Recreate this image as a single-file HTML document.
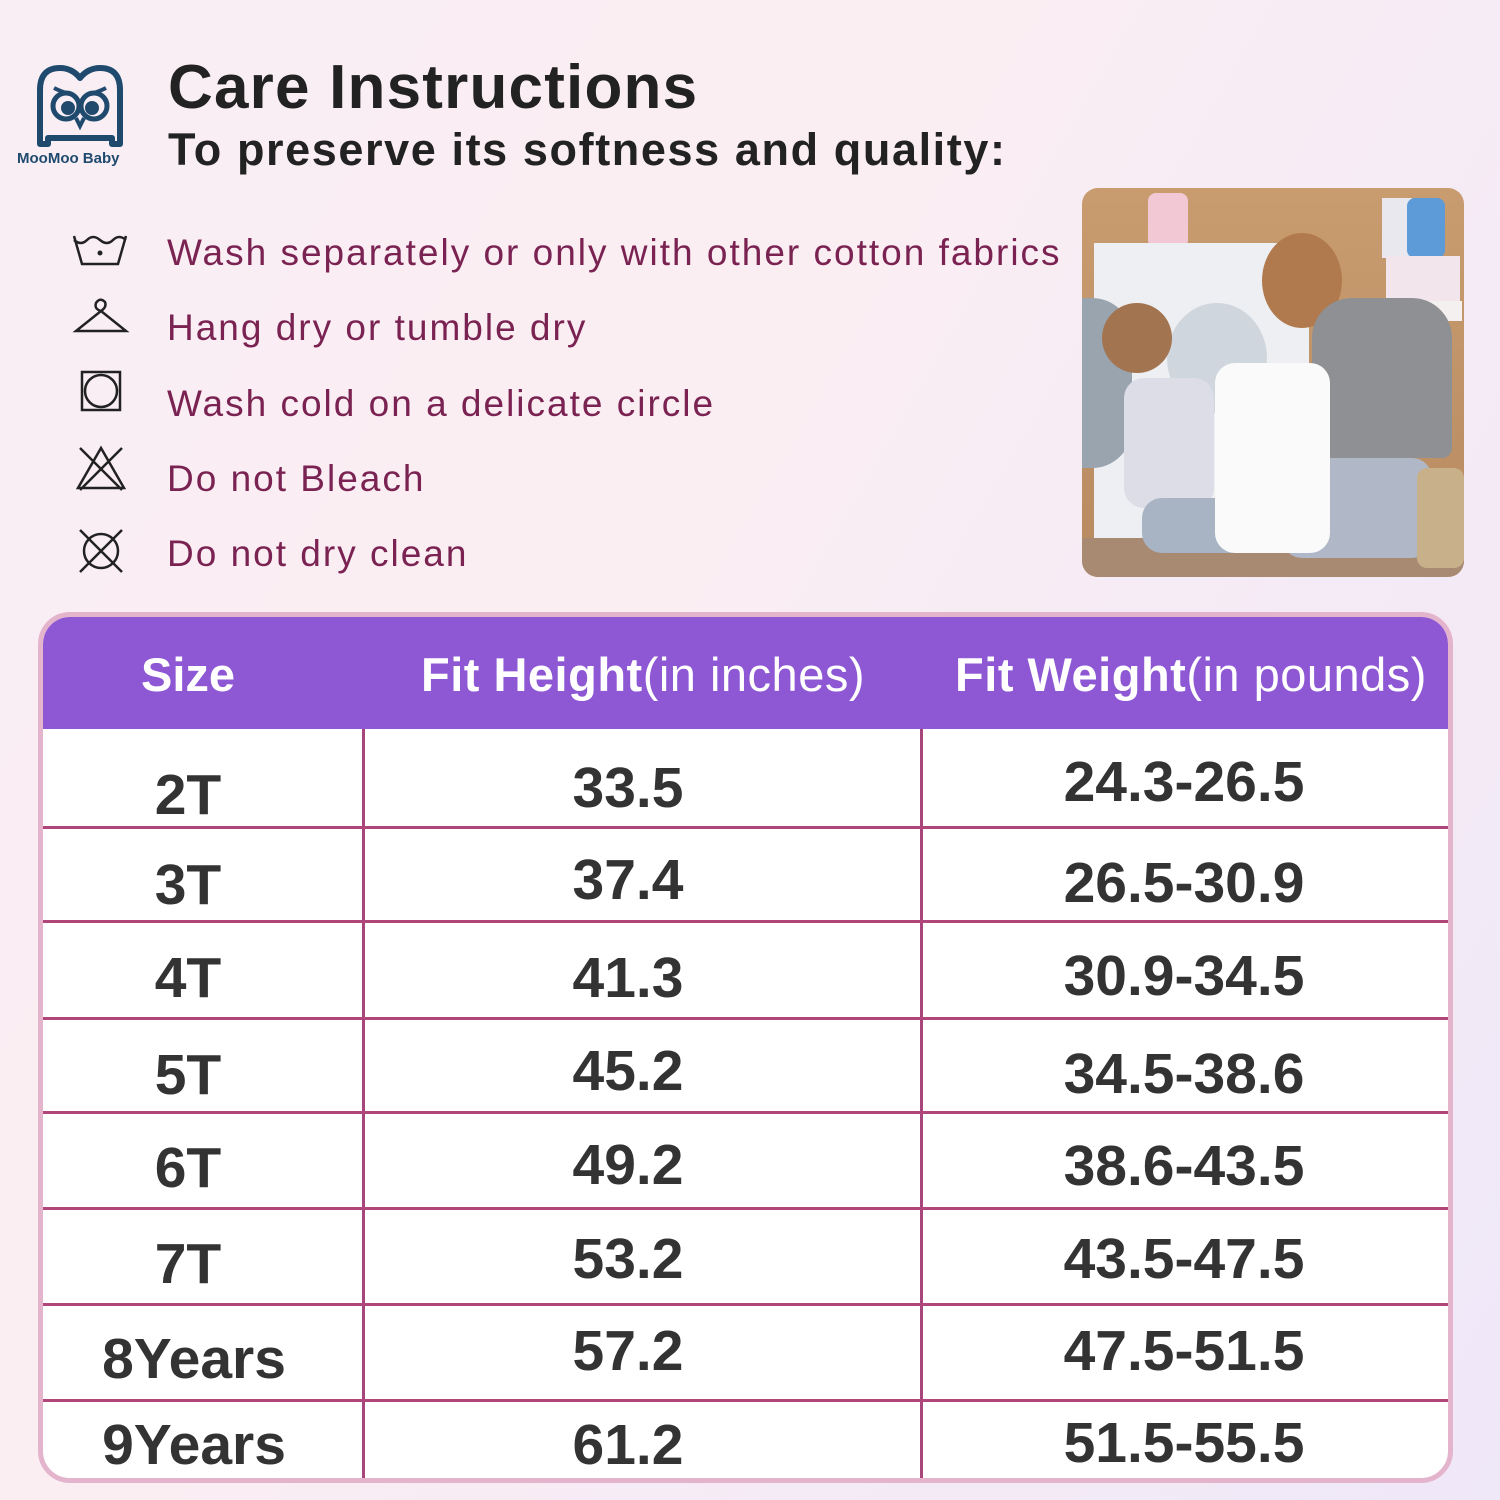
<!DOCTYPE html>
<html><head><style>
*{margin:0;padding:0;box-sizing:border-box}
body{width:1500px;height:1500px;position:relative;overflow:hidden;font-family:"Liberation Sans",sans-serif;background:linear-gradient(120deg,#f8eef4 0%,#fbeef3 40%,#efe8f8 100%)}
.abs{position:absolute}
.t1{left:168px;top:52px;font-size:62px;font-weight:bold;color:#222;letter-spacing:1.2px}
.t2{left:168px;top:124px;font-size:45px;font-weight:bold;color:#222;letter-spacing:1.6px}
.care{left:167px;font-size:37px;color:#7a2352;white-space:nowrap;letter-spacing:2px}
.ic{left:72px;width:58px;height:50px}
.tbl{left:38px;top:612px;width:1415px;height:871px;border:5px solid #e4b4cc;border-radius:32px;overflow:hidden;background:#fff}
.hd{position:absolute;left:0;top:0;width:100%;height:112px;background:#8e58d4}
.hd div{position:absolute;top:0;height:112px;line-height:116px;color:#fff;font-size:47px;font-weight:bold;text-align:center;white-space:nowrap}
.hd span{font-weight:normal}
.vl{position:absolute;top:112px;bottom:0;width:3px;background:#a8457a}
.hl{position:absolute;left:0;right:0;height:3px;background:#b0457a}
.c{position:absolute;font-size:57px;font-weight:bold;color:#333;text-align:center;white-space:nowrap}
</style></head><body>
<svg class="abs" style="left:30px;top:62px" width="100" height="86" viewBox="0 0 100 86">
<path d="M10 82 V28 Q10 6 30 6 Q42 6 50 16 Q58 6 70 6 Q90 6 90 28 V82 H82 V76 H18 V82 Z" fill="none" stroke="#1f4a6e" stroke-width="6" stroke-linejoin="round"/>
<circle cx="36" cy="44" r="13" fill="none" stroke="#1f4a6e" stroke-width="5"/>
<circle cx="64" cy="44" r="13" fill="none" stroke="#1f4a6e" stroke-width="5"/>
<circle cx="38" cy="46" r="7" fill="#1f4a6e"/><circle cx="62" cy="46" r="7" fill="#1f4a6e"/>
<path d="M24 26 Q32 30 40 32 M76 26 Q68 30 60 32 M46 56 L50 64 L54 56" fill="none" stroke="#1f4a6e" stroke-width="4"/>
</svg>
<div class="abs" style="left:17px;top:150px;font-size:15px;font-weight:bold;color:#1f4a6e">MooMoo Baby</div>
<div class="abs t1">Care Instructions</div>
<div class="abs t2">To preserve its softness and quality:</div>
<svg class="abs ic" style="top:228px" viewBox="0 0 58 50"><path d="M2 8 L10 36 H46 L54 8 M2 12 Q9 18 15 12 Q21 6 28 12 Q35 18 41 12 Q47 6 54 12" fill="none" stroke="#222" stroke-width="2.5"/><circle cx="28" cy="25" r="2.5" fill="#222"/></svg>
<svg class="abs ic" style="top:295px" viewBox="0 0 58 50"><path d="M29 16 Q22 14 24 8 Q28 2 33 7 Q35 12 29 16 L4 36 H54 Z" fill="none" stroke="#222" stroke-width="2.5"/></svg>
<svg class="abs ic" style="top:368px" viewBox="0 0 58 50"><rect x="10" y="4" width="38" height="38" fill="none" stroke="#222" stroke-width="2.5"/><circle cx="29" cy="23" r="16" fill="none" stroke="#222" stroke-width="2.5"/></svg>
<svg class="abs ic" style="top:444px" viewBox="0 0 58 50"><path d="M29 4 L6 44 H52 Z M8 4 L50 46 M50 4 L8 46" fill="none" stroke="#222" stroke-width="2.5"/></svg>
<svg class="abs ic" style="top:526px" viewBox="0 0 58 50"><circle cx="29" cy="25" r="17" fill="none" stroke="#222" stroke-width="2.5"/><path d="M8 4 L50 46 M50 4 L8 46" stroke="#222" stroke-width="2.5"/></svg>
<div class="abs care" style="top:232px">Wash separately or only with other cotton fabrics</div>
<div class="abs care" style="top:307px">Hang dry or tumble dry</div>
<div class="abs care" style="top:383px">Wash cold on a delicate circle</div>
<div class="abs care" style="top:458px">Do not Bleach</div>
<div class="abs care" style="top:533px">Do not dry clean</div>
<div class="abs" style="left:1082px;top:188px;width:382px;height:389px;border-radius:16px;overflow:hidden;background:linear-gradient(180deg,#c99c70,#b88a60)">
 <div class="abs" style="left:0;top:350px;width:382px;height:40px;background:#a88a72"></div>
 <div class="abs" style="left:66px;top:5px;width:40px;height:55px;background:#f2c8d4;border-radius:8px"></div>
 <div class="abs" style="left:300px;top:10px;width:30px;height:60px;background:#e8e8ee"></div>
 <div class="abs" style="left:325px;top:10px;width:38px;height:60px;background:#5c9ad8;border-radius:8px"></div>
 <div class="abs" style="left:304px;top:68px;width:74px;height:45px;background:#f2e6ec"></div>
 <div class="abs" style="left:320px;top:113px;width:60px;height:20px;background:#f4f0f0"></div>
 <div class="abs" style="left:12px;top:55px;width:215px;height:295px;background:#eeeff2"></div>
 <div class="abs" style="left:0;top:110px;width:50px;height:170px;background:#9aa4ae;border-radius:0 40px 40px 0"></div>
 <div class="abs" style="left:85px;top:115px;width:100px;height:110px;background:#cfd6dd;border-radius:50%"></div>
 <div class="abs" style="left:180px;top:45px;width:80px;height:95px;background:#b07a4e;border-radius:50%"></div>
 <div class="abs" style="left:230px;top:110px;width:140px;height:160px;background:#8e9094;border-radius:40px 40px 10px 10px"></div>
 <div class="abs" style="left:200px;top:270px;width:150px;height:100px;background:#b0b8c8;border-radius:20px"></div>
 <div class="abs" style="left:20px;top:115px;width:70px;height:70px;background:#a27450;border-radius:50%"></div>
 <div class="abs" style="left:42px;top:190px;width:90px;height:130px;background:#dcdde6;border-radius:20px"></div>
 <div class="abs" style="left:60px;top:310px;width:110px;height:55px;background:#a8b4c4;border-radius:20px"></div>
 <div class="abs" style="left:133px;top:175px;width:115px;height:190px;background:#fafafa;border-radius:20px"></div>
 <div class="abs" style="left:335px;top:280px;width:47px;height:100px;background:#c8b08a;border-radius:10px"></div>
</div>
<div class="abs tbl">
 <div class="hd">
  <div style="left:0;width:290px">Size</div>
  <div style="left:320px;width:560px;letter-spacing:0.5px">Fit Height<span>(in inches)</span></div>
  <div style="left:878px;width:540px;letter-spacing:0.5px">Fit Weight<span>(in pounds)</span></div>
 </div>
 <div class="vl" style="left:319px"></div>
 <div class="vl" style="left:877px"></div>
 <div class="hl" style="top:209px"></div>
 <div class="hl" style="top:303px"></div>
 <div class="hl" style="top:400px"></div>
 <div class="hl" style="top:494px"></div>
 <div class="hl" style="top:590px"></div>
 <div class="hl" style="top:686px"></div>
 <div class="hl" style="top:782px"></div>

 <div class="c" style="left:0;width:290px;top:145px">2T</div>
 <div class="c" style="left:320px;width:530px;top:138px">33.5</div>
 <div class="c" style="left:876px;width:530px;top:132px">24.3-26.5</div>

 <div class="c" style="left:0;width:290px;top:235px">3T</div>
 <div class="c" style="left:320px;width:530px;top:230px">37.4</div>
 <div class="c" style="left:876px;width:530px;top:233px">26.5-30.9</div>

 <div class="c" style="left:0;width:290px;top:328px">4T</div>
 <div class="c" style="left:320px;width:530px;top:328px">41.3</div>
 <div class="c" style="left:876px;width:530px;top:326px">30.9-34.5</div>

 <div class="c" style="left:0;width:290px;top:425px">5T</div>
 <div class="c" style="left:320px;width:530px;top:421px">45.2</div>
 <div class="c" style="left:876px;width:530px;top:424px">34.5-38.6</div>

 <div class="c" style="left:0;width:290px;top:518px">6T</div>
 <div class="c" style="left:320px;width:530px;top:515px">49.2</div>
 <div class="c" style="left:876px;width:530px;top:516px">38.6-43.5</div>

 <div class="c" style="left:0;width:290px;top:614px">7T</div>
 <div class="c" style="left:320px;width:530px;top:609px">53.2</div>
 <div class="c" style="left:876px;width:530px;top:609px">43.5-47.5</div>

 <div class="c" style="left:0;width:302px;top:709px">8Years</div>
 <div class="c" style="left:320px;width:530px;top:701px">57.2</div>
 <div class="c" style="left:876px;width:530px;top:701px">47.5-51.5</div>

 <div class="c" style="left:0;width:302px;top:795px">9Years</div>
 <div class="c" style="left:320px;width:530px;top:795px">61.2</div>
 <div class="c" style="left:876px;width:530px;top:793px">51.5-55.5</div>
</div>
</body></html>
